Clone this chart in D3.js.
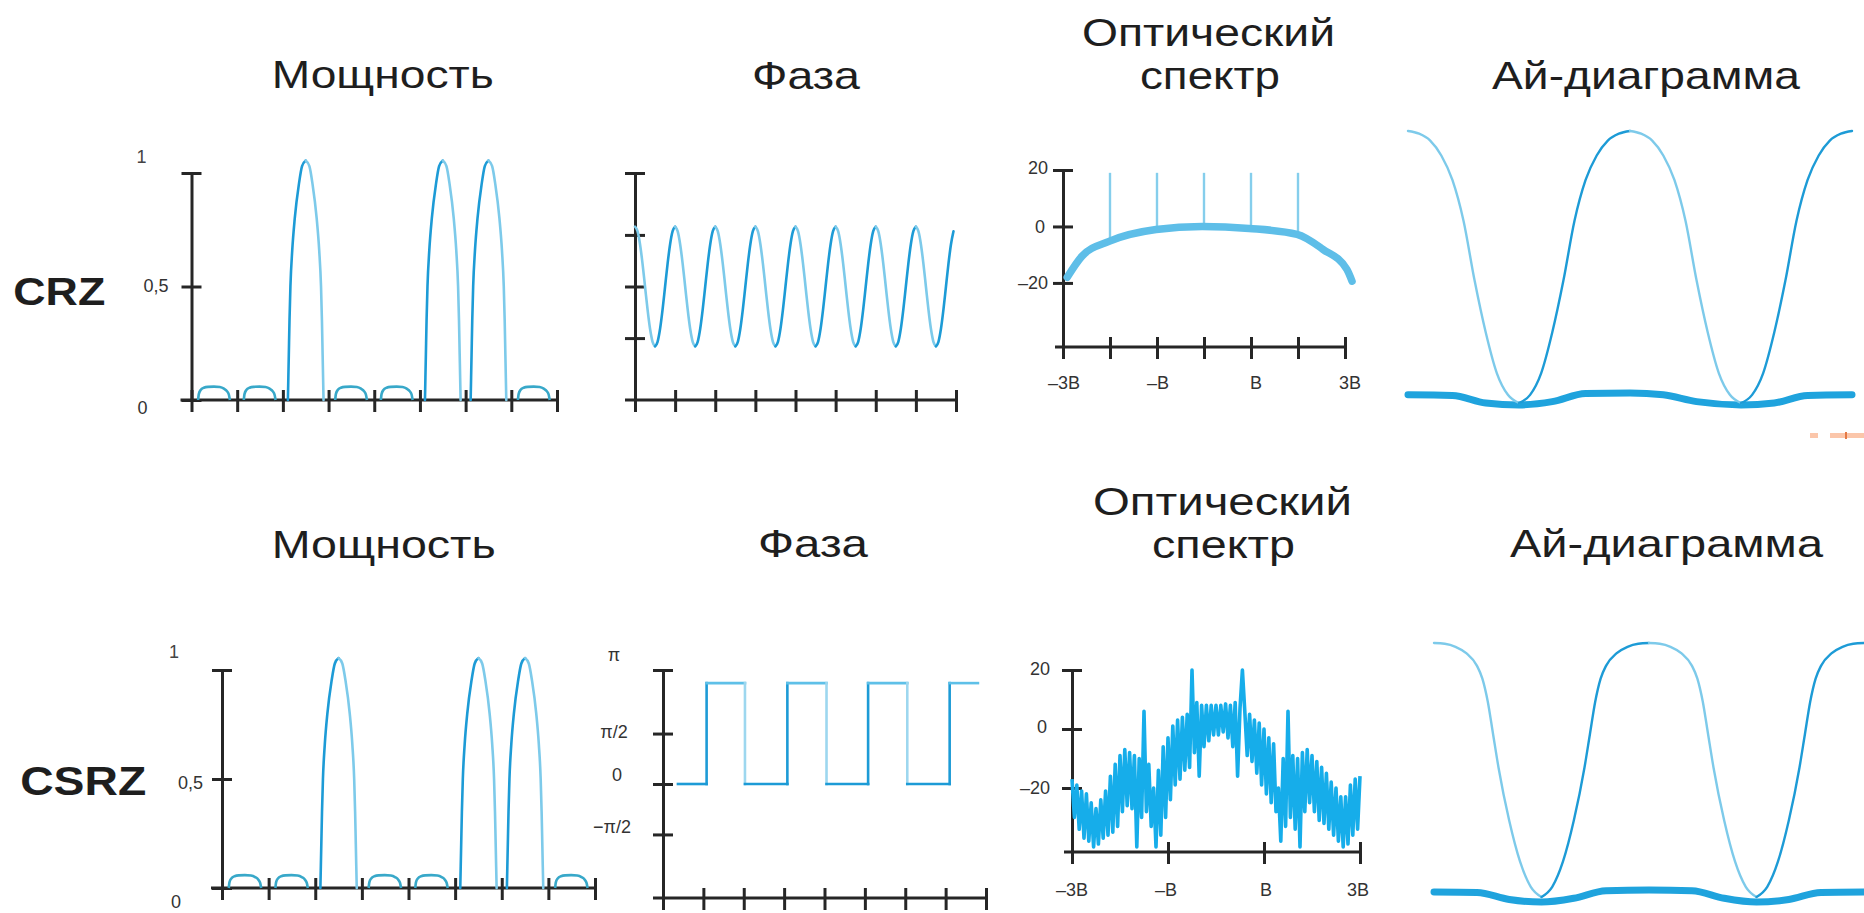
<!DOCTYPE html>
<html>
<head>
<meta charset="utf-8">
<script src="https://cdn.jsdelivr.net/npm/d3@7"></script>
<style>
  html, body { margin: 0; padding: 0; background: #fff; }
  svg { display: block; }
</style>
</head>
<body>
<svg id="chart" width="1864" height="913"></svg>
<script>
// ---------------- DATA ----------------
const rowLabels = ["CRZ", "CSRZ"];
const panelTitles = ["Мощность", "Фаза", "Оптический", "спектр", "Ай-диаграмма"];

// bit pattern shown in the power traces
const bitsCRZ  = [0, 0, 1, 0, 0, 1, 1, 0];
const bitsCSRZ = [0, 0, 1, 0, 0, 1, 1, 0];

// shape of a "1" pulse inside one bit slot (slot fraction -> normalized power)
const onePulseT = [0.11, 0.13, 0.145, 0.165, 0.205, 0.26, 0.35, 0.42, 0.5, 0.58, 0.65, 0.74, 0.795, 0.835, 0.855, 0.87, 0.89];
const onePulseV = [0, 0.2, 0.35, 0.5, 0.66, 0.8, 0.95, 1.03, 1.055, 1.03, 0.95, 0.8, 0.66, 0.5, 0.35, 0.2, 0];
// small residual hump in a "0" slot
const zeroHumpT = [0.145, 0.16, 0.2, 0.27, 0.36, 0.49, 0.62, 0.71, 0.78, 0.82, 0.84];
const zeroHumpV = [0, 0.026, 0.044, 0.054, 0.058, 0.059, 0.057, 0.05, 0.038, 0.022, 0];

const powerTicks = [0, 1, 2, 3, 4, 5, 6, 7, 8];
const powerYTicks = [0, 0.5, 1];
const powerYLabels = ["0", "0,5", "1"];

// CRZ phase (units of pi), sampled every 1/16 bit
const phaseCRZ = [
  0.58, 0.536, 0.41, 0.222, 0, -0.222, -0.41, -0.536, -0.58, -0.536, -0.41, -0.222, 0, 0.222, 0.41, 0.536,
  0.58, 0.536, 0.41, 0.222, 0, -0.222, -0.41, -0.536, -0.58, -0.536, -0.41, -0.222, 0, 0.222, 0.41, 0.536,
  0.58, 0.536, 0.41, 0.222, 0, -0.222, -0.41, -0.536, -0.58, -0.536, -0.41, -0.222, 0, 0.222, 0.41, 0.536,
  0.58, 0.536, 0.41, 0.222, 0, -0.222, -0.41, -0.536, -0.58, -0.536, -0.41, -0.222, 0, 0.222, 0.41, 0.536,
  0.58, 0.536, 0.41, 0.222, 0, -0.222, -0.41, -0.536, -0.58, -0.536, -0.41, -0.222, 0, 0.222, 0.41, 0.536,
  0.58, 0.536, 0.41, 0.222, 0, -0.222, -0.41, -0.536, -0.58, -0.536, -0.41, -0.222, 0, 0.222, 0.41, 0.536,
  0.58, 0.536, 0.41, 0.222, 0, -0.222, -0.41, -0.536, -0.58, -0.536, -0.41, -0.222, 0, 0.222, 0.41, 0.536,
  0.58, 0.536, 0.41, 0.222, 0, -0.222, -0.41, -0.536, -0.58, -0.536, -0.41, -0.222, 0, 0.222, 0.41, 0.536
];
// CSRZ phase: square wave (units of pi)
const csrzPhaseEdges  = [0.37, 1.08, 2.03, 3.08, 4.05, 5.08, 6.05, 7.1, 7.8];
const csrzPhaseLevels = [0, 1, 0, 1, 0, 1, 0, 1];
const phaseYTicks = [-0.5, 0, 0.5];
const phaseYLabels = ["−π/2", "0", "π/2"];

// CRZ optical spectrum (x in units of B, y in dB)
const specCurveB  = [-2.91, -2.6, -2.02, -1.02, -0.04, 0.96, 1.98, 2.53, 3.04, 3.15];
const specCurveDb = [-18, -10.6, -5.3, -1.1, 0, -0.7, -2.8, -8.1, -15.2, -19.4];
const toneB      = [-2, -1, 0, 1, 2];
const toneBaseDb = [-5.3, -1.1, 0, -0.7, -2.8];
const toneTopDb  = 19;
// CSRZ optical spectrum, noisy trace sampled every 0.05 B from -3B to 3B (dB)
const noiseDb = [
  -17, -30, -19, -34, -21, -37, -22, -38, -25, -40,
  -27, -39, -24, -37, -21, -36, -16, -35, -12, -33,
  -9, -28, -7, -26, -8, -27, -9, -40, -10, -30,
  6, -28, -12, -33, -20, -40, -14, -36, -6, -30,
  -3, -24, 1, -19, 3, -17, 4, -14, 5, -13,
  20, -8, 9, -16, 8, -6, 8, -4, 8, -2,
  8, -2, 8, -1, 8.5, -3, 8, -6, 9, -16,
  7, 20, 6, -9, 5, -11, 3, -15, 2, -19,
  0, -22, -3, -25, -5, -28, -20, -38, -10, -33,
  6, -30, -9, -34, -10, -40, -8, -28, -7, -25,
  -9, -28, -11, -31, -13, -32, -15, -34, -18, -36,
  -20, -38, -23, -40, -23, -39, -19, -36, -17, -34,
  -16
];
const specYTicks = [-20, 0, 20];
const specYLabels = ["–20", "0", "20"];
const specXTicksCRZ = [-3, -2, -1, 0, 1, 2, 3];
const specXTicksCSRZ = [-3, -1, 1, 3];
const specXLabelVals = [-3, -1, 1, 3];
const specXLabels = ["–3B", "–B", "B", "3B"];

// eye diagrams (t in bit periods, normalized level)
const eyeCRZ_T = [0, 0.05, 0.1, 0.15, 0.2, 0.25, 0.3, 0.35, 0.4, 0.45, 0.5, 0.55, 0.6, 0.65, 0.7, 0.75, 0.8, 0.85, 0.9, 0.95, 1,
                  1.05, 1.1, 1.15, 1.2, 1.25, 1.3, 1.35, 1.4, 1.45, 1.5, 1.55, 1.6, 1.65, 1.7, 1.75, 1.8, 1.85, 1.9, 1.95, 2];
const eyeCRZ_V = [1, 0.99, 0.965, 0.91, 0.82, 0.67, 0.45, 0.26, 0.11, 0.03, 0, 0.03, 0.11, 0.26, 0.45, 0.67, 0.82, 0.91, 0.965, 0.99, 1,
                  0.99, 0.965, 0.91, 0.82, 0.67, 0.45, 0.26, 0.11, 0.03, 0, 0.03, 0.11, 0.26, 0.45, 0.67, 0.82, 0.91, 0.965, 0.99, 1];
const eyeCRZBase_T = [0, 0.2, 0.35, 0.5, 0.65, 0.8, 1, 1.15, 1.3, 1.5, 1.65, 1.8, 2];
const eyeCRZBase_V = [0.03, 0.028, 0, -0.007, 0.005, 0.035, 0.037, 0.03, 0.005, -0.007, 0, 0.028, 0.03];

const eyeCSRZ_T = [0, 0.05, 0.1, 0.15, 0.2, 0.225, 0.25, 0.275, 0.3, 0.35, 0.4, 0.45, 0.5, 0.55, 0.6, 0.65, 0.7, 0.725, 0.75, 0.775, 0.8, 0.85, 0.9, 0.95, 1,
                   1.05, 1.1, 1.15, 1.2, 1.225, 1.25, 1.275, 1.3, 1.35, 1.4, 1.45, 1.5, 1.55, 1.6, 1.65, 1.7, 1.725, 1.75, 1.775, 1.8, 1.85, 1.9, 1.95, 2];
const eyeCSRZ_V = [1, 0.997, 0.985, 0.96, 0.91, 0.86, 0.77, 0.64, 0.51, 0.3, 0.14, 0.04, 0, 0.04, 0.14, 0.3, 0.51, 0.64, 0.77, 0.86, 0.91, 0.96, 0.985, 0.997, 1,
                   0.997, 0.985, 0.96, 0.91, 0.86, 0.77, 0.64, 0.51, 0.3, 0.14, 0.04, 0, 0.04, 0.14, 0.3, 0.51, 0.64, 0.77, 0.86, 0.91, 0.96, 0.985, 0.997, 1];
const eyeCSRZBase_T = [0, 0.2, 0.35, 0.5, 0.65, 0.8, 1, 1.2, 1.35, 1.5, 1.65, 1.8, 2];
const eyeCSRZBase_V = [0.02, 0.018, -0.01, -0.02, -0.005, 0.025, 0.028, 0.025, -0.005, -0.02, -0.01, 0.018, 0.02];

// ---------------- STYLE ----------------
const FONT = "'Liberation Sans', Arial, Helvetica, sans-serif";
const COL = {
  axis: "#262626", text: "#1e1e1e",
  dark: "#1d9bd6", light: "#7dcaea", hump: "#38a8c9",
  specThick: "#5ebee8", specLine: "#85ceec", noise: "#16adea",
  eyeThick: "#1fa3dd"
};

const svg = d3.select("#chart");

// ---------------- HELPERS ----------------
function axes(g, x, y, cfg) {
  const x0 = x.range()[0];
  const yb = y.range()[0];
  const ya = d3.axisLeft(y).tickValues(cfg.yTicks).tickFormat("").tickSizeInner(10).tickSizeOuter(0);
  const gy = g.append("g").attr("transform", `translate(${x0},0)`).call(ya);
  gy.select(".domain").attr("stroke", COL.axis).attr("stroke-width", 3);
  gy.selectAll(".tick line").attr("x1", 10).attr("stroke", COL.axis).attr("stroke-width", 3);

  const xa = d3.axisBottom(x).tickValues(cfg.xTicks).tickFormat("").tickSizeInner(12).tickSizeOuter(0);
  const gx = g.append("g").attr("transform", `translate(0,${yb})`).call(xa);
  gx.select(".domain").remove();
  gx.append("line").attr("x1", x0 - cfg.ext).attr("x2", x.range()[1])
    .attr("stroke", COL.axis).attr("stroke-width", 3);
  gx.selectAll(".tick line").attr("y1", -10).attr("stroke", COL.axis).attr("stroke-width", 3);
}

function label(g, x, y, txt, opts) {
  const t = g.append("text").attr("x", x).attr("y", y).text(txt)
    .attr("font-family", opts.family || FONT)
    .attr("font-size", opts.size)
    .attr("font-weight", opts.weight || "normal")
    .attr("fill", opts.fill || COL.text)
    .attr("text-anchor", opts.anchor || "middle");
  if (opts.len) t.attr("textLength", opts.len).attr("lengthAdjust", "spacingAndGlyphs");
  if (opts.center) t.attr("dy", "0.35em");
  return t;
}

// draws a polyline split by direction: rising parts dark, falling parts light
function splitLine(g, pts, x, y, width, curve) {
  const segs = [];
  let cur = [pts[0]], dir = 0;
  for (let i = 1; i < pts.length; i++) {
    const d = Math.sign(pts[i][1] - pts[i - 1][1]);
    if (dir !== 0 && d !== 0 && d !== dir) {
      segs.push({ dir, pts: cur });
      cur = [pts[i - 1]];
    }
    if (d !== 0) dir = d;
    cur.push(pts[i]);
  }
  segs.push({ dir, pts: cur });
  const line = d3.line().x(d => x(d[0])).y(d => y(d[1])).curve(curve || d3.curveMonotoneX);
  segs.forEach(s => {
    g.append("path").attr("d", line(s.pts)).attr("fill", "none")
      .attr("stroke", s.dir > 0 ? COL.dark : COL.light)
      .attr("stroke-width", width).attr("stroke-linecap", "round");
  });
}

// ---------------- TITLES ----------------
const titles = svg.append("g");
const TS = 39;
[[panelTitles[0], 382.7, 88, 222], [panelTitles[1], 806, 89, 108], [panelTitles[2], 1208.5, 46, 253],
 [panelTitles[3], 1210, 89, 140], [panelTitles[4], 1646, 89, 308]].forEach(d =>
  label(titles, d[1], d[2], d[0], { size: TS, len: d[3] }));
[[panelTitles[0], 383.7, 558, 224], [panelTitles[1], 813, 557, 110], [panelTitles[2], 1222.5, 515, 259],
 [panelTitles[3], 1223.5, 558, 143], [panelTitles[4], 1666.5, 557, 313]].forEach(d =>
  label(titles, d[1], d[2], d[0], { size: TS, len: d[3] }));
label(titles, 59.3, 305, rowLabels[0], { size: 39, weight: "bold", len: 92 });
label(titles, 83.2, 795, rowLabels[1], { size: 40, weight: "bold", len: 126 });

// ---------------- POWER ----------------
function powerPanel(bits, xr, yr, lab) {
  const g = svg.append("g");
  const x = d3.scaleLinear().domain([0, bits.length]).range(xr);
  const y = d3.scaleLinear().domain([0, 1]).range(yr);
  axes(g, x, y, { yTicks: powerYTicks, xTicks: powerTicks, ext: 11 });
  const line = d3.line().x(d => x(d[0])).y(d => y(d[1])).curve(d3.curveMonotoneX);
  bits.forEach((b, i) => {
    if (b === 1) {
      splitLine(g, onePulseT.map((t, k) => [i + t, onePulseV[k]]), x, y, 2.6);
    } else {
      g.append("path").attr("d", line(zeroHumpT.map((t, k) => [i + t, zeroHumpV[k]])))
        .attr("fill", "none").attr("stroke", COL.hump).attr("stroke-width", 2.6);
    }
  });
  const ax = xr[0];
  label(g, ax + lab.one[0], y(1) + lab.one[1], powerYLabels[2], { size: 18, fill: "#444", center: true });
  label(g, ax + lab.half[0], y(0.5) + lab.half[1], powerYLabels[1], { size: 18, fill: "#333", anchor: "end", center: true });
  label(g, ax + lab.zero[0], y(0) + lab.zero[1], powerYLabels[0], { size: 18, fill: "#333", center: true });
}
powerPanel(bitsCRZ, [191.5, 557], [400, 173], { one: [-50, -16], half: [-23, -1], zero: [-49, 8] });
powerPanel(bitsCSRZ, [222, 595], [888, 670], { one: [-48, -18], half: [-19, 4], zero: [-46, 14] });

// ---------------- PHASE ----------------
(function () {
  const g = svg.append("g");
  const x = d3.scaleLinear().domain([0, 8]).range([635, 956]);
  const y = d3.scaleLinear().domain([-1.1, 1.1]).range([400, 173]);
  axes(g, x, y, { yTicks: phaseYTicks.concat([1.1]), xTicks: powerTicks, ext: 10 });
  const tScale = d3.scaleLinear().domain([0, 16]).range([0, 1]);
  const pts = phaseCRZ.map((v, i) => [tScale(i), v]);
  splitLine(g, pts, x, y, 2.6);
})();

(function () {
  const g = svg.append("g");
  const x = d3.scaleLinear().domain([0, 8]).range([663, 986]);
  const y = d3.scaleLinear().domain([-1.13, 1.13]).range([898, 670]);
  axes(g, x, y, { yTicks: phaseYTicks.concat([1.13]), xTicks: powerTicks, ext: 10 });
  const line = d3.line().x(d => x(d[0])).y(d => y(d[1]));
  const seg = (p, c) => g.append("path").attr("d", line(p)).attr("fill", "none")
    .attr("stroke", c).attr("stroke-width", 2.6).attr("stroke-linecap", "square");
  csrzPhaseLevels.forEach((lv, i) => {
    const a = csrzPhaseEdges[i], b = csrzPhaseEdges[i + 1];
    seg([[a, lv], [b, lv]], lv > 0 ? "#5ec0e8" : COL.dark);
    if (i < csrzPhaseLevels.length - 1) {
      const nx = csrzPhaseLevels[i + 1];
      seg([[b, lv], [b, nx]], nx > lv ? COL.dark : "#9dd7ef");
    }
  });
  const lx = 663 - 49;
  label(g, lx, y(1.13) - 15, "π", { size: 18, fill: "#333", center: true });
  label(g, lx, y(0.5) - 2, phaseYLabels[2], { size: 18, fill: "#333", center: true });
  label(g, lx + 3, y(0) - 9, phaseYLabels[1], { size: 18, fill: "#333", center: true });
  label(g, lx - 2, y(-0.5) - 8, phaseYLabels[0], { size: 18, fill: "#333", center: true });
})();

// ---------------- SPECTRA ----------------
function specLabels(g, x, y, cfg) {
  specYTicks.forEach((v, i) => {
    label(g, x.range()[0] + cfg.yl[i][0], y(v) + cfg.yl[i][1], specYLabels[i],
      { size: 18, fill: "#333", anchor: "end", center: true });
  });
  specXLabelVals.forEach((v, i) => {
    label(g, x(v) + cfg.xl[i], y.range()[0] + cfg.xdy, specXLabels[i],
      { size: 18, fill: "#333", center: true });
  });
}

(function () {
  const g = svg.append("g");
  const x = d3.scaleLinear().domain([-3, 3]).range([1063, 1345]);
  const y = d3.scaleLinear().domain([-42.7, 20]).range([347, 170]);
  axes(g, x, y, { yTicks: specYTicks, xTicks: specXTicksCRZ, ext: 8 });
  toneB.forEach((b, i) => {
    g.append("line").attr("x1", x(b)).attr("x2", x(b))
      .attr("y1", y(toneBaseDb[i])).attr("y2", y(toneTopDb))
      .attr("stroke", COL.specLine).attr("stroke-width", 2.4);
  });
  const line = d3.line().x(d => x(d[0])).y(d => y(d[1])).curve(d3.curveMonotoneX);
  g.append("path").attr("d", line(specCurveB.map((b, i) => [b, specCurveDb[i]])))
    .attr("fill", "none").attr("stroke", COL.specThick).attr("stroke-width", 7.5)
    .attr("stroke-linecap", "round");
  specLabels(g, x, y, { yl: [[-15, 0], [-18, 0], [-15, -2]], xl: [1, 1, 5, 5], xdy: 36 });
})();

(function () {
  const g = svg.append("g");
  const x = d3.scaleLinear().domain([-3, 3]).range([1072, 1360]);
  const y = d3.scaleLinear().domain([-41.7, 20]).range([852, 670]);
  axes(g, x, y, { yTicks: specYTicks, xTicks: specXTicksCSRZ, ext: 8 });
  const idx = d3.scaleLinear().domain([0, noiseDb.length - 1]).range([-3, 3]);
  const line = d3.line().x((d, i) => x(idx(i))).y(d => y(d));
  g.append("path").attr("d", line(noiseDb)).attr("fill", "none")
    .attr("stroke", COL.noise).attr("stroke-width", 3.6).attr("stroke-linejoin", "round");
  specLabels(g, x, y, { yl: [[-22, 0], [-25, -2], [-22, -1]], xl: [0, -2, 2, -2], xdy: 38 });
})();

// ---------------- EYE DIAGRAMS ----------------
function eyePanel(T, V, BT, BV, xr, yr) {
  const g = svg.append("g");
  const x = d3.scaleLinear().domain([0, 2]).range(xr);
  const y = d3.scaleLinear().domain([0, 1]).range(yr);
  const line = d3.line().x(d => x(d[0])).y(d => y(d[1])).curve(d3.curveMonotoneX);
  g.append("path").attr("d", line(BT.map((t, i) => [t, BV[i]])))
    .attr("fill", "none").attr("stroke", COL.eyeThick).attr("stroke-width", 7)
    .attr("stroke-linecap", "round");
  splitLine(g, T.map((t, i) => [t, V[i]]), x, y, 2.4);
}
eyePanel(eyeCRZ_T, eyeCRZ_V, eyeCRZBase_T, eyeCRZBase_V, [1408, 1852], [403, 131]);
eyePanel(eyeCSRZ_T, eyeCSRZ_V, eyeCSRZBase_T, eyeCSRZBase_V, [1434, 1864], [897, 643]);

// small decorative mark at the right edge
svg.append("rect").attr("x", 1810).attr("y", 433).attr("width", 8).attr("height", 5).attr("fill", "#fbc6aa");
svg.append("rect").attr("x", 1830).attr("y", 433).attr("width", 34).attr("height", 5).attr("fill", "#fbc6aa");
svg.append("rect").attr("x", 1845).attr("y", 432).attr("width", 2).attr("height", 7).attr("fill", "#e47a45");
</script>
</body>
</html>
